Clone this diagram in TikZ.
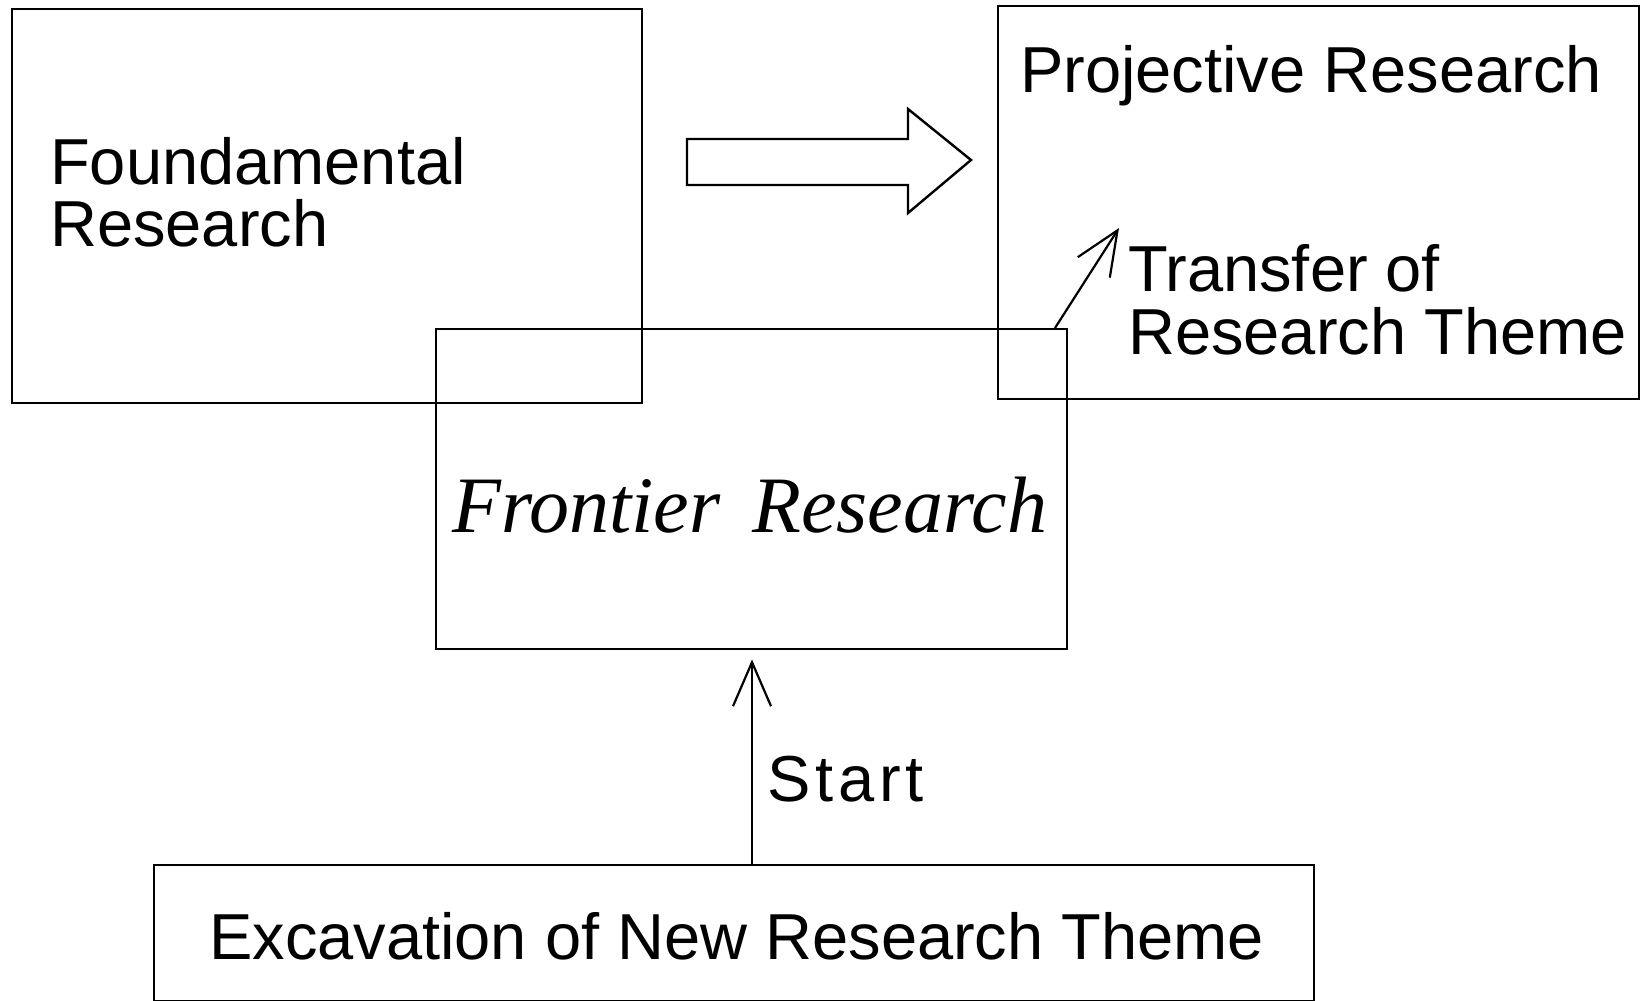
\documentclass[tikz,border=0pt]{standalone}
\usepackage{fontspec}
\setmainfont{Liberation Sans}
\newfontfamily\frontierfont{Liberation Serif}[ItalicFont={* Italic}]
\newfontfamily\spacedfont{Liberation Sans}[LetterSpace=7.5]
\usetikzlibrary{arrows.meta}
\tikzset{
  box/.style={draw, line width=2.4pt, rectangle, inner sep=0pt, anchor=north west},
  lbl/.style={inner sep=0pt, anchor=base west, font=\fontsize{65}{78}\selectfont},
  conn/.style={line width=2.2pt, -{Straight Barb[length=44pt,width=38pt,line width=2.2pt]}},
}
\begin{document}
\begin{tikzpicture}[x=1pt,y=-1pt]
\useasboundingbox (0,0) rectangle (1641,1001);
% boxes
\node[box, minimum width=630pt, minimum height=394pt] (fund) at (10.5,8) {};
\node[box, minimum width=641pt, minimum height=393pt] (proj) at (997,5) {};
\node[box, minimum width=631pt, minimum height=320pt] (front) at (435,328) {};
\node[box, minimum width=1160pt, minimum height=136pt] (exc) at (153,864) {};
% texts
\node[lbl] (fundA) at (50,184) {Foundamental};
\node[lbl] (fundB) at (50,246) {Research};
\node[lbl] (projT) at (1020,92) {Projective Research};
\node[lbl] (trA) at (1128,291) {Transfer of};
\node[lbl] (trB) at (1128,354) {Research Theme};
\node[inner sep=0pt, anchor=base west, font=\frontierfont\itshape\fontsize{80}{96}\selectfont] (frontT) at (452,532) {Frontier\hspace{0.15em} Research};
\node[lbl, font=\spacedfont\fontsize{65}{78}\selectfont] (startT) at (767,801) {Start};
\node[lbl] (excT) at (209,959) {Excavation of New Research Theme};
% block arrow
\draw[line width=2.4pt, line join=miter] (687,139) -- (908,139) -- (908,109) -- (971,160) -- (908,213) -- (908,185) -- (687,185) -- cycle;
% transfer arrow
\coordinate (trtip) at (1119,228);
\draw[conn] (front.north -| 1055,0) -- (trtip);
% start arrow
\draw[conn, shorten >=9pt] (exc.north -| 752,0) -- (front.south -| 752,0);
\end{tikzpicture}
\end{document}
